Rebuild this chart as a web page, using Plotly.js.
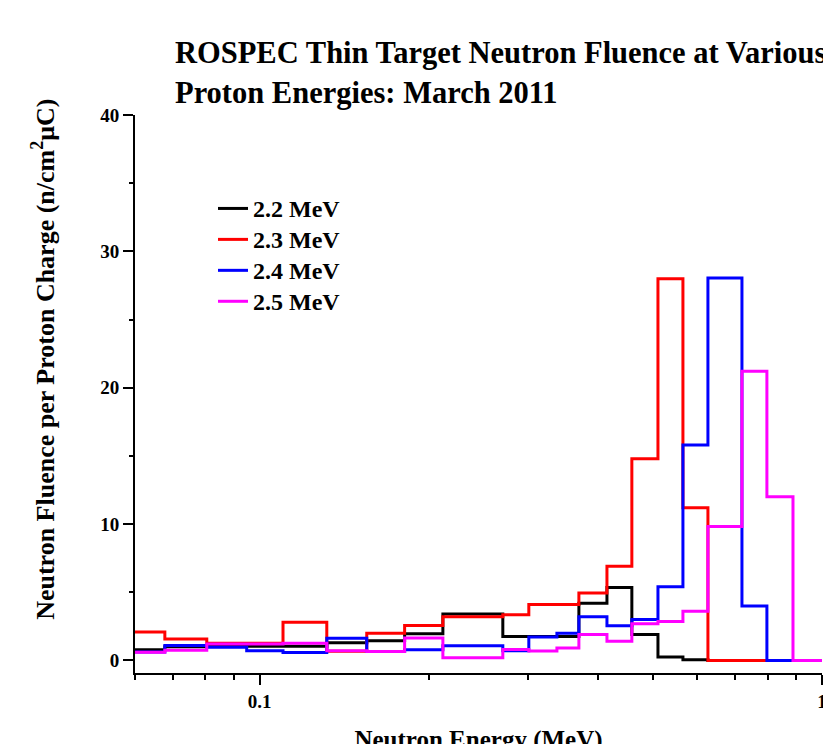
<!DOCTYPE html>
<html>
<head>
<meta charset="utf-8">
<script src="https://cdn.plot.ly/plotly-3.0.1.min.js"></script>
<style>
html, body { margin:0; padding:0; overflow:hidden; background:#fff; width:823px; height:744px; }
#chart { width:823px; height:780px; }
</style>
</head>
<body>
<div id="chart"></div>
<script>
// Bin edges of the neutron energy spectrum (MeV)
const binEdges = [0.06, 0.0678, 0.0805, 0.0948, 0.110, 0.1316, 0.155, 0.181, 0.2117, 0.2706, 0.301, 0.3377, 0.3695, 0.4145, 0.459, 0.5108, 0.5658, 0.6268, 0.7205, 0.798, 0.888, 1.0];

// Fluence per proton charge in each bin (n/cm^2 uC)
const fluence22 = [0.78, 1.0, 1.1, 1.05, 1.05, 1.3, 1.45, 1.95, 3.4, 1.75, 1.75, 1.75, 4.2, 5.35, 1.9, 0.25, 0.05, 0, 0, 0, 0];
const fluence23 = [2.08, 1.57, 1.27, 1.27, 2.8, 0.68, 2.0, 2.57, 3.2, 3.35, 4.1, 4.1, 4.95, 6.9, 14.8, 28.0, 11.2, 0, 0, 0, 0];
const fluence24 = [0.62, 1.1, 0.97, 0.72, 0.59, 1.62, 0.66, 0.78, 1.08, 0.72, 1.72, 2.0, 3.2, 2.55, 3.0, 5.4, 15.8, 28.05, 4.0, 0, 0];
const fluence25 = [0.6, 0.75, 1.2, 1.2, 1.27, 0.72, 0.66, 1.64, 0.2, 0.8, 0.7, 0.92, 1.9, 1.4, 2.7, 2.85, 3.6, 9.82, 21.2, 12.0, 0];

const seriesNames = ['2.2 MeV', '2.3 MeV', '2.4 MeV', '2.5 MeV'];
const seriesColors = ['#000000', '#ff0000', '#0000ff', '#ff00ff'];
const seriesValues = [fluence22, fluence23, fluence24, fluence25];

const tickX = [0.1, 1];
const tickXText = ['0.1', '1'];
const minorX = [0.06, 0.07, 0.08, 0.09, 0.2, 0.3, 0.4, 0.5, 0.6, 0.7, 0.8, 0.9];
const tickY = [0, 10, 20, 30, 40];
const minorY = [5, 15, 25, 35];

const FONT = 'Liberation Serif';

// step-histogram trace: value of bin i drawn from edge i to edge i+1
function stepTrace(vals, name, color) {
  const ys = vals.concat([vals[vals.length - 1]]);
  return {
    type: 'scatter', mode: 'lines',
    name: '<span style="font-size:24px"><b>' + name + '</b></span>',
    x: binEdges, y: ys,
    line: { shape: 'hv', color: color, width: 3 },
    hoverinfo: 'skip'
  };
}

const traces = seriesValues.map((v, i) => stepTrace(v, seriesNames[i], seriesColors[i]));

const W = 823, H = 780;
const mL = 135, mR = 1, mT = 115;
const plotBottom = 673.3;
const mB = H - plotBottom;
const plotW = W - mL - mR, plotH = H - mT - mB;

const layout = {
  width: W, height: H,
  margin: { l: mL, r: mR, t: mT, b: mB, pad: 0 },
  paper_bgcolor: '#fff', plot_bgcolor: '#fff',
  font: { family: FONT, color: '#000', size: 19 },
  title: {
    text: '<b>ROSPEC Thin Target Neutron Fluence at Various<br>Proton Energies: March 2011</b>',
    font: { family: FONT, size: 30.5, color: '#000' },
    x: 175 / W, xanchor: 'left', xref: 'container',
    y: 1 - 63 / H, yanchor: 'top', yref: 'container'
  },
  showlegend: true,
  legend: {
    x: (213 - mL) / plotW, y: (plotBottom - 188) / plotH, xanchor: 'left', yanchor: 'top',
    bgcolor: 'rgba(0,0,0,0)', borderwidth: 0,
    font: { family: FONT, size: 21.5, color: '#000' },
    tracegroupgap: 0
  },
  xaxis: {
    type: 'log',
    range: [Math.log10(0.06), 0],
    showgrid: false, zeroline: false,
    showline: true, linecolor: '#000', linewidth: 2,
    ticks: 'outside', ticklen: 10, tickwidth: 2, tickcolor: '#000',
    tickmode: 'array', tickvals: tickX, ticktext: tickXText.map(t => '<b>' + t + '</b>'),
    ticklabeloverflow: 'allow',
    tickfont: { family: FONT, size: 19, color: '#000' },
    minor: { tickmode: 'array', tickvals: minorX, ticks: 'outside', ticklen: 5, tickwidth: 2, tickcolor: '#000', showgrid: false },
    title: { text: '<b>Neutron Energy (MeV)</b>', font: { family: FONT, size: 25, color: '#000' }, standoff: 20 },
    fixedrange: true
  },
  yaxis: {
    range: [-0.92, 40],
    showgrid: false, zeroline: false,
    showline: true, linecolor: '#000', linewidth: 2,
    ticks: 'outside', ticklen: 10, tickwidth: 2, tickcolor: '#000',
    tickmode: 'array', tickvals: tickY, ticktext: tickY.map(t => '<b>' + t + '</b>'),
    tickfont: { family: FONT, size: 19, color: '#000' },
    minor: { tickmode: 'array', tickvals: minorY, ticks: 'outside', ticklen: 4.5, tickwidth: 2, tickcolor: '#000', showgrid: false },
    fixedrange: true
  },
  annotations: [{
    text: '<b>Neutron Fluence per Proton Charge (n/cm<sup>2</sup>\u03BCC)</b>',
    xref: 'paper', yref: 'paper',
    x: (44 - mL) / plotW, y: (plotBottom - 360) / plotH,
    xanchor: 'center', yanchor: 'middle',
    textangle: -90, showarrow: false,
    font: { family: FONT, size: 26, color: '#000' }
  }]
};

Plotly.newPlot('chart', traces, layout, { displayModeBar: false, staticPlot: true });
</script>
</body>
</html>
